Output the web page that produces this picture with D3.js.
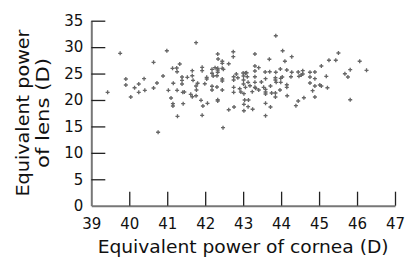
<!DOCTYPE html>
<html>
<head>
<meta charset="utf-8">
<script src="https://cdn.jsdelivr.net/npm/d3@7"></script>
<style>
  body { margin: 0; background: #fff; }
  svg { display: block; }
</style>
</head>
<body>
<svg id="chart" width="405" height="257"></svg>
<script>
// equivalent power of cornea (D), x
const cornea = [39.43,39.76,39.91,39.91,40.04,40.14,40.25,40.25,40.39,40.41,
  40.64,40.64,40.73,40.89,40.99,41.03,41.10,41.14,41.15,41.15,
  41.16,41.25,41.26,41.33,41.26,41.27,41.39,41.39,41.39,41.41,
  41.45,41.42,41.53,41.62,41.66,41.66,41.66,41.68,41.76,41.76,
  41.76,41.77,41.80,41.89,41.92,41.92,41.92,41.94,41.99,42.04,
  42.04,42.06,42.18,42.18,42.18,42.18,42.21,42.26,42.31,42.31,
  42.33,42.33,42.33,42.33,42.33,42.33,42.34,42.45,42.45,42.45,
  42.45,42.45,42.45,42.47,42.48,42.62,42.62,42.74,42.74,42.75,
  42.75,42.75,42.75,42.76,42.82,42.86,42.91,42.94,43.00,43.01,
  43.01,43.01,43.02,43.02,43.02,43.04,43.09,43.13,43.13,
  43.06,43.06,43.11,43.14,43.18,43.24,43.25,43.31,43.31,43.31,43.31,
  43.31,43.31,43.33,43.41,43.41,43.48,43.54,43.58,43.59,43.59,
  43.59,43.59,43.59,43.59,43.69,43.70,43.72,43.72,43.75,43.86,
  43.86,43.85,43.85,43.85,43.85,43.87,43.98,43.99,43.99,43.97,
  44.03,44.04,44.10,44.15,44.15,44.15,44.16,44.28,44.28,44.26,
  44.39,44.45,44.45,44.47,44.53,44.57,44.57,44.60,44.76,44.76,
  44.76,44.83,44.89,44.89,44.89,44.89,45.02,45.06,45.06,45.19,
  45.22,45.26,45.44,45.51,45.68,45.76,45.82,45.82,46.07,46.25,40.76];

// equivalent power of lens (D), y
const lens = [21.45,28.83,23.97,22.83,20.56,22.32,23.02,21.45,24.03,21.83,
  27.13,22.27,23.21,24.54,29.32,21.83,20.37,25.99,19.30,18.86,
  23.16,26.05,25.35,26.81,21.83,16.91,24.35,23.72,23.02,21.45,
  21.51,19.30,24.29,21.07,20.62,25.54,24.59,23.72,30.84,22.64,
  20.81,21.89,23.16,19.94,26.18,25.54,17.10,18.86,23.08,23.97,
  24.29,19.37,25.05,25.80,22.59,21.89,24.54,26.11,24.59,22.46,
  28.70,20.05,19.81,25.24,25.67,25.99,27.75,27.32,26.94,25.99,
  23.97,23.59,21.89,14.76,25.80,26.86,18.16,29.13,28.19,24.40,
  23.78,22.40,21.45,18.67,24.91,24.21,22.13,21.51,25.10,24.54,
  23.78,23.02,21.19,19.18,17.97,20.00,25.16,23.34,18.73,
  25.10,22.40,24.40,20.00,22.70,21.57,18.24,28.70,26.43,25.48,24.40,
  23.34,22.40,22.21,26.11,21.89,23.40,22.40,25.29,24.03,22.02,
  21.51,21.13,19.37,17.03,27.70,25.35,22.64,18.67,21.32,32.16,
  25.24,24.21,23.78,21.32,20.56,23.34,25.86,23.34,24.10,21.89,
  24.35,29.32,27.32,25.67,22.89,22.40,20.81,28.19,25.24,24.40,
  18.92,25.29,19.81,24.48,24.73,25.54,24.92,20.43,25.24,24.35,
  23.21,21.76,25.29,24.03,22.64,20.56,22.83,26.43,22.64,24.48,
  22.32,27.51,27.51,28.89,24.97,24.35,25.73,20.05,27.32,25.61,13.89];

const xTicks = [39, 40, 41, 42, 43, 44, 45, 46, 47];
const yTicks = [0, 5, 10, 15, 20, 25, 30, 35];

const xTitle = "Equivalent power of cornea (D)";
const yTitle = ["Equivalent power", "of lens (D)"];

const svg = d3.select("#chart");
const font = "'DejaVu Sans', sans-serif";

const x = d3.scaleLinear().domain([39, 47]).range([91.3, 395]);
const y = d3.scaleLinear().domain([0, 35]).range([205.7, 20.7]);

// axes (ticks point inward)
const gx = svg.append("g")
  .attr("transform", `translate(0,${y(0)})`)
  .call(d3.axisBottom(x).tickValues(xTicks).tickSize(-14).tickSizeOuter(0).tickPadding(13));

const gy = svg.append("g")
  .attr("transform", `translate(${x(39)},0)`)
  .call(d3.axisLeft(y).tickValues(yTicks).tickSize(-14).tickSizeOuter(0).tickPadding(8));

[gx, gy].forEach(g => {
  g.select(".domain").attr("stroke", "#777").attr("stroke-width", 2);
  g.selectAll(".tick line").attr("stroke", "#222").attr("stroke-width", 1.3);
  g.selectAll(".tick text")
    .attr("fill", "#111")
    .style("font-family", font)
    .style("font-size", "15px");
});
// hide the inner tick that sits on the other axis
gx.selectAll(".tick").filter(d => d === 39).select("line").remove();
gy.selectAll(".tick").filter(d => d === 0).select("line").remove();

// points
const pts = cornea.map((c, i) => ({ c, l: lens[i] }));
svg.append("g")
  .selectAll("path")
  .data(pts)
  .join("path")
  .attr("transform", d => `translate(${x(d.c)},${y(d.l)})`)
  .attr("d", d3.symbol(d3.symbolCross, 9))
  .attr("fill", "#666");

// titles
svg.append("text")
  .attr("x", (x(39) + x(47)) / 2)
  .attr("y", 253)
  .attr("text-anchor", "middle")
  .attr("textLength", 291)
  .attr("lengthAdjust", "spacingAndGlyphs")
  .style("font-family", font)
  .style("font-size", "18px")
  .attr("fill", "#111")
  .text(xTitle);

const yMid = 113;
yTitle.forEach((t, i) => {
  svg.append("text")
    .attr("transform", `translate(${29 + i * 20},${yMid}) rotate(-90)`)
    .attr("text-anchor", "middle")
    .attr("textLength", i === 0 ? 167 : 110)
    .attr("lengthAdjust", "spacingAndGlyphs")
    .style("font-family", font)
    .style("font-size", "18px")
    .attr("fill", "#111")
    .text(t);
});
</script>
</body>
</html>
